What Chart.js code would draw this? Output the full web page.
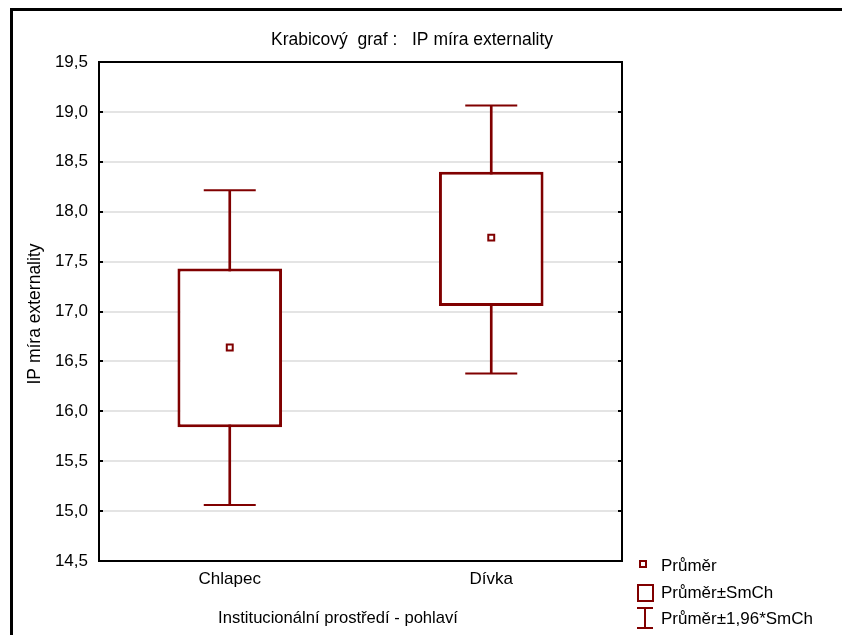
<!DOCTYPE html>
<html>
<head>
<meta charset="utf-8">
<script src="https://cdn.jsdelivr.net/npm/chart.js@4.4.1/dist/chart.umd.min.js"></script>
<style>
html,body{margin:0;padding:0;background:#fff;}
#wrap{width:842px;height:635px;position:relative;}
</style>
</head>
<body>
<div id="wrap"><canvas id="c" width="842" height="635"></canvas></div>
<script>
const categories = ['Chlapec', 'Dívka'];
const means = [16.64, 17.74];
const seLow = [15.84, 17.055];
const seHigh = [17.43, 18.40];
const ciLow = [15.06, 16.38];
const ciHigh = [18.215, 19.065];
const yTicks = [14.5, 15.0, 15.5, 16.0, 16.5, 17.0, 17.5, 18.0, 18.5, 19.0, 19.5];

const chartTitle = 'Krabicový  graf :   IP míra externality';
const xTitle = 'Institucionální prostředí - pohlaví';
const yTitle = 'IP míra externality';
const legendLabels = ['Průměr', 'Průměr±SmCh', 'Průměr±1,96*SmCh'];

const RED = '#800000';
const FONT = '"Liberation Sans", Arial, sans-serif';

const decor = {
  id: 'decor',
  beforeDraw(chart) {
    const ctx = chart.ctx;
    ctx.save();
    ctx.fillStyle = '#fff';
    ctx.fillRect(0, 0, chart.width, chart.height);
    ctx.restore();
  },
  afterDraw(chart) {
    const ctx = chart.ctx;
    const a = chart.chartArea;
    const ys = chart.scales.y;
    ctx.save();
    // outer frame
    ctx.strokeStyle = '#000';
    ctx.lineWidth = 3;
    ctx.beginPath();
    ctx.moveTo(11.5, chart.height + 2);
    ctx.lineTo(11.5, 9.5);
    ctx.lineTo(chart.width + 2, 9.5);
    ctx.stroke();
    // plot border
    ctx.lineWidth = 2;
    ctx.strokeRect(a.left, a.top, a.right - a.left, a.bottom - a.top);
    // inner tick marks
    yTicks.forEach(v => {
      const y = Math.round(ys.getPixelForValue(v));
      ctx.beginPath();
      ctx.moveTo(a.left, y); ctx.lineTo(a.left + 4, y);
      ctx.moveTo(a.right, y); ctx.lineTo(a.right - 4, y);
      ctx.stroke();
    });
    // titles
    ctx.fillStyle = '#000';
    ctx.textBaseline = 'middle';
    ctx.textAlign = 'center';
    ctx.font = '17.5px ' + FONT;
    ctx.fillText(chartTitle, 412, 40);
    ctx.font = '16.6px ' + FONT;
    ctx.fillText(xTitle, 338, 618);
    ctx.save();
    ctx.font = '17.5px ' + FONT;
    ctx.translate(35, 314);
    ctx.rotate(-Math.PI / 2);
    ctx.fillText(yTitle, 0, 0);
    ctx.restore();
    // legend
    ctx.textAlign = 'left';
    ctx.strokeStyle = RED;
    ctx.lineWidth = 2;
    ctx.fillStyle = '#fff';
    ctx.fillRect(640, 561, 6, 6);
    ctx.strokeRect(640, 561, 6, 6);
    ctx.strokeRect(638, 585, 15, 16);
    ctx.beginPath();
    ctx.moveTo(637, 608); ctx.lineTo(653, 608);
    ctx.moveTo(645, 608); ctx.lineTo(645, 628);
    ctx.moveTo(637, 628); ctx.lineTo(653, 628);
    ctx.stroke();
    ctx.fillStyle = '#000';
    ctx.font = '17px ' + FONT;
    ctx.fillText(legendLabels[0], 661, 566);
    ctx.fillText(legendLabels[1], 661, 593);
    ctx.fillText(legendLabels[2], 661, 619);
    ctx.restore();
  }
};

new Chart(document.getElementById('c'), {
  type: 'bar',
  data: {
    labels: categories,
    datasets: [
      {
        type: 'bar',
        label: 'whisker',
        data: categories.map((c, i) => [ciLow[i], ciHigh[i]]),
        backgroundColor: RED,
        borderWidth: 0,
        barThickness: 2,
        grouped: false,
        order: 3
      },
      {
        type: 'bar',
        label: legendLabels[1],
        data: categories.map((c, i) => [seLow[i], seHigh[i]]),
        backgroundColor: '#fff',
        borderColor: RED,
        borderWidth: 3,
        borderSkipped: false,
        barPercentage: 0.4,
        categoryPercentage: 1,
        grouped: false,
        order: 2
      },
      {
        type: 'line',
        label: 'capHigh',
        data: ciHigh,
        showLine: false,
        pointStyle: 'line',
        pointRadius: 26,
        pointHoverRadius: 26,
        borderColor: RED,
        borderWidth: 2,
        order: 1
      },
      {
        type: 'line',
        label: 'capLow',
        data: ciLow,
        showLine: false,
        pointStyle: 'line',
        pointRadius: 26,
        pointHoverRadius: 26,
        borderColor: RED,
        borderWidth: 2,
        order: 1
      },
      {
        type: 'line',
        label: legendLabels[0],
        data: means,
        showLine: false,
        pointStyle: 'rect',
        pointRadius: 4.2,
        pointHoverRadius: 4.2,
        backgroundColor: '#fff',
        borderColor: RED,
        borderWidth: 2,
        order: 0
      }
    ]
  },
  options: {
    responsive: false,
    animation: false,
    events: [],
    layout: { padding: { left: 14, right: 220, top: 62, bottom: 0 } },
    plugins: {
      legend: { display: false },
      title: { display: false },
      tooltip: { enabled: false }
    },
    scales: {
      x: {
        type: 'category',
        offset: true,
        grid: { display: false, drawTicks: false },
        border: { display: false },
        ticks: {
          color: '#000',
          font: { family: FONT, size: 17 },
          padding: 8
        },
        afterFit(s) { s.height = 74; }
      },
      y: {
        type: 'linear',
        min: 14.5,
        max: 19.5,
        afterBuildTicks(s) { s.ticks = yTicks.map(v => ({ value: v })); },
        grid: { color: '#e4e4e4', lineWidth: 2, drawTicks: false },
        border: { display: false },
        ticks: {
          color: '#000',
          font: { family: FONT, size: 17 },
          padding: 11,
          callback: v => v.toFixed(1).replace('.', ',')
        },
        afterFit(s) { s.width = 85; }
      }
    }
  },
  plugins: [decor]
});
</script>
</body>
</html>
